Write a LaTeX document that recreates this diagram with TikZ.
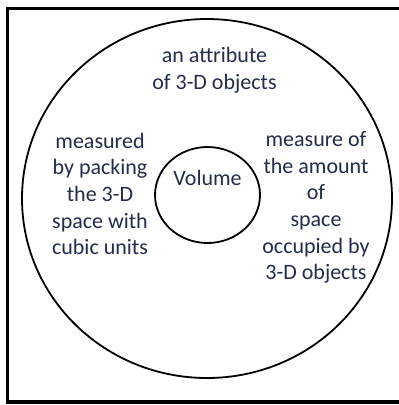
\documentclass[tikz,border=0pt]{standalone}
\usepackage{fontspec}
\setmainfont{Carlito}
\definecolor{txtblue}{RGB}{35,45,75}
\tikzset{
  frame/.style={draw=black, line width=3.2pt},
  ring/.style={draw=black, line width=1.8pt},
  lbl/.style={text=txtblue, align=center, inner sep=0pt,
    font=\fontsize{22}{26.7}\selectfont},
}
\begin{document}
\begin{tikzpicture}[x=1pt,y=-1pt]
\useasboundingbox (0,0) rectangle (399,405);
\clip (0,0) rectangle (399,405);
\draw[frame] (7.5,8.5) rectangle (420,402);
\draw[ring] (207,198.5) ellipse [x radius=185, y radius=179.5];
\draw[ring] (207.5,195) ellipse [x radius=52.5, y radius=48];
\node[lbl, anchor=base] (vol) at (207.5,185) {Volume};
\node[lbl] (top) at (214.5,70.9) {\strut an attribute\\of 3-D objects\strut};
\node[lbl] (left) at (100,196.2) {\strut measured\\by packing\\the 3-D\\space with\\cubic units\strut};
\node[lbl] (right) at (316,207.9) {\strut measure of\\the amount\\of\\space\\occupied by\\3-D objects\strut};
\end{tikzpicture}
\end{document}
